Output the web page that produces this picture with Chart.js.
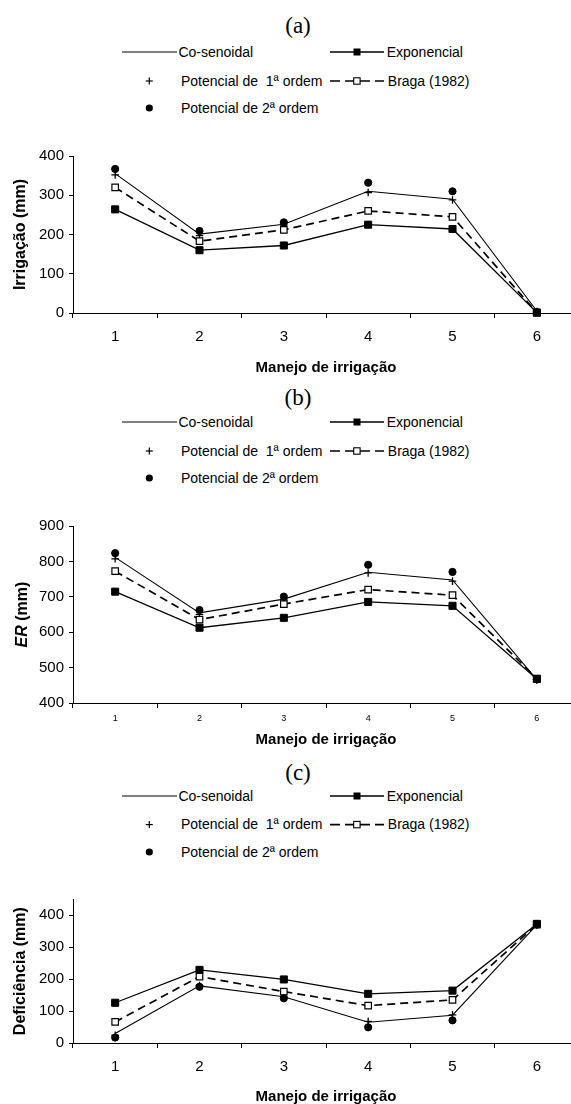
<!DOCTYPE html>
<html><head><meta charset="utf-8">
<script src="https://cdn.jsdelivr.net/npm/chart.js@4/dist/chart.umd.min.js"></script>
<style>
html,body{margin:0;padding:0;background:#fff;overflow:hidden;width:571px;height:1104px;position:relative;}
.ptitle{position:absolute;font-family:"Liberation Serif",serif;font-size:23px;color:#000;transform:translate(-50%,-50%);white-space:nowrap;}
.lt{position:absolute;font-family:"Liberation Sans",Arial,sans-serif;font-size:14px;color:#000;white-space:pre;line-height:16px;transform:translateY(-50%);}
canvas{position:absolute;left:0;}
svg{position:absolute;left:0;}
</style></head><body>
<script>
const categories = ['1','2','3','4','5','6'];
const seriesNames = ['Co-senoidal','Exponencial','Potencial de  1ª ordem','Braga (1982)','Potencial de 2ª ordem'];
const xTitle = 'Manejo de irrigação';

// (a) Irrigação (mm)
const irrCosenoidal = [355, 201, 226, 310, 290, 5];
const irrExponencial = [264, 160, 172, 225, 214, 1];
const irrPotencial1 = [352, 197, 224, 307, 288, 4];
const irrBraga = [320, 183, 212, 260, 245, 1];
const irrPotencial2 = [367, 209, 231, 332, 310, 2];
const irrTicks = [0, 100, 200, 300, 400];

// (b) ER (mm)
const erCosenoidal = [812, 655, 694, 770, 748, 466];
const erExponencial = [715, 613, 641, 686, 675, 468];
const erPotencial1 = [808, 651, 692, 768, 745, 465];
const erBraga = [773, 636, 680, 721, 705, 469];
const erPotencial2 = [824, 663, 701, 791, 771, 467];
const erTicks = [400, 500, 600, 700, 800, 900];

// (c) Deficiência (mm)
const defCosenoidal = [30, 179, 145, 65, 87, 370];
const defExponencial = [126, 229, 199, 154, 164, 373];
const defPotencial1 = [24, 180, 144, 68, 88, 369];
const defBraga = [66, 208, 161, 117, 135, 371];
const defPotencial2 = [17, 176, 140, 49, 71, 372];
const defTicks = [0, 100, 200, 300, 400];

const FONT = '"Liberation Sans", Arial, sans-serif';
const NS = 'http://www.w3.org/2000/svg';

function el(tag, attrs, parent) {
  const e = document.createElementNS(NS, tag);
  for (const k in attrs) e.setAttribute(k, attrs[k]);
  parent.appendChild(e);
  return e;
}
function textDiv(txt, left, y) {
  const d = document.createElement('div');
  d.className = 'lt';
  d.textContent = txt;
  d.style.left = left + 'px';
  d.style.top = y + 'px';
  document.body.appendChild(d);
}
function legend(label, titleY, r1, r2, r3) {
  const t = document.createElement('div');
  t.className = 'ptitle';
  t.textContent = label;
  t.style.left = '298px';
  t.style.top = titleY + 'px';
  document.body.appendChild(t);
  const off = r1 - 10;
  const svg = document.createElementNS(NS, 'svg');
  svg.setAttribute('width', 571);
  svg.setAttribute('height', r3 - r1 + 20);
  svg.style.top = off + 'px';
  document.body.appendChild(svg);
  const y1 = r1 - off, y2 = r2 - off, y3 = r3 - off;
  el('line', {x1:122, y1:y1, x2:177, y2:y1, stroke:'#000', 'stroke-width':1.2}, svg);
  el('line', {x1:330, y1:y1, x2:384, y2:y1, stroke:'#000', 'stroke-width':1.3}, svg);
  el('rect', {x:353.5, y:y1-3.5, width:7, height:7, fill:'#000'}, svg);
  el('line', {x1:145.8, y1:y2, x2:152.8, y2:y2, stroke:'#000', 'stroke-width':1.2}, svg);
  el('line', {x1:149.3, y1:y2-3.5, x2:149.3, y2:y2+3.5, stroke:'#000', 'stroke-width':1.2}, svg);
  el('line', {x1:330, y1:y2, x2:384, y2:y2, stroke:'#000', 'stroke-width':1.6, 'stroke-dasharray':'10,5'}, svg);
  el('rect', {x:353.7, y:y2-3.2, width:6.4, height:6.4, fill:'#fff', stroke:'#000', 'stroke-width':1.1}, svg);
  el('circle', {cx:149.3, cy:y3, r:3.6, fill:'#000'}, svg);
  textDiv(seriesNames[0], 178.4, r1);
  textDiv(seriesNames[1], 386.7, r1);
  textDiv(seriesNames[2], 181, r2);
  textDiv(seriesNames[3], 387.8, r2);
  textDiv(seriesNames[4], 181, r3);
}

function datasets(cos, exp, p1, braga, p2) {
  return [
    {label: seriesNames[0], data: cos, borderColor:'#000', borderWidth:1.1, pointRadius:0, tension:0, fill:false, order:4, clip:false},
    {label: seriesNames[1], data: exp, borderColor:'#000', borderWidth:1.3, pointStyle:'rect', pointRadius:5, pointBackgroundColor:'#000', pointBorderColor:'#000', pointBorderWidth:1, order:3, clip:false},
    {label: seriesNames[2], data: p1, showLine:false, pointStyle:'cross', pointRadius:3.8, borderColor:'#000', pointBorderColor:'#000', pointBorderWidth:1.3, order:2, clip:false},
    {label: seriesNames[3], data: braga, borderColor:'#000', borderWidth:1.7, borderDash:[8,5], pointStyle:'rect', pointRadius:4.6, pointBackgroundColor:'#fff', pointBorderColor:'#000', pointBorderWidth:1.2, order:1, clip:false},
    {label: seriesNames[4], data: p2, showLine:false, pointStyle:'circle', pointRadius:3.6, pointBackgroundColor:'#000', pointBorderColor:'#000', pointBorderWidth:1, order:0, clip:false}
  ];
}

const erTitlePlugin = {
  id: 'erTitle',
  afterDraw(chart) {
    const {ctx, chartArea} = chart;
    const cy = (chartArea.top + chartArea.bottom) / 2;
    ctx.save();
    ctx.translate(26.5, cy);
    ctx.rotate(-Math.PI / 2);
    ctx.fillStyle = '#000';
    ctx.textBaseline = 'alphabetic';
    ctx.textAlign = 'left';
    const f1 = 'italic bold 16px ' + FONT;
    const f2 = 'bold 16px ' + FONT;
    ctx.font = f1; const w1 = ctx.measureText('ER').width;
    ctx.font = f2; const w2 = ctx.measureText(' (mm)').width;
    const x0 = -(w1 + w2) / 2;
    ctx.font = f1; ctx.fillText('ER', x0, 0);
    ctx.font = f2; ctx.fillText(' (mm)', x0 + w1, 0);
    ctx.restore();
  }
};

function makeChart(p) {
  const c = document.createElement('canvas');
  c.width = 600; c.height = p.height;
  c.style.top = p.top + 'px';
  c.style.width = '600px'; c.style.height = p.height + 'px';
  document.body.appendChild(c);
  new Chart(c, {
    type: 'line',
    data: { labels: categories, datasets: p.datasets },
    plugins: p.plugins || [],
    options: {
      responsive: false,
      animation: false,
      devicePixelRatio: 1,
      layout: { padding: { top: p.padTop, right: 21, left: 0, bottom: 0 } },
      plugins: { legend: { display: false }, tooltip: { enabled: false } },
      scales: {
        x: {
          type: 'category', offset: true,
          grid: { offset: true, drawOnChartArea: false, drawTicks: true, tickLength: 5, color: '#000', lineWidth: 1 },
          border: { display: true, color: '#000', width: 1 },
          ticks: { color: '#000', font: { family: FONT, size: p.xFont }, padding: p.xPad, maxRotation: 0, autoSkip: false },
          title: { display: true, text: xTitle, color: '#000', font: { family: FONT, size: 15, weight: 'bold' }, padding: { top: 0, bottom: p.xTitlePad } },
          afterFit: s => { s.height = p.xHeight; }
        },
        y: {
          type: 'linear', min: p.min, max: p.max,
          afterBuildTicks: s => { s.ticks = p.ticks.map(v => ({ value: v })); },
          grid: { drawOnChartArea: false, drawTicks: true, tickLength: 4, color: '#000', lineWidth: 1 },
          border: { display: true, color: '#000', width: 1 },
          ticks: { color: '#000', font: { family: FONT, size: 15 }, padding: 5, includeBounds: false },
          title: { display: !!p.yTitle, text: p.yTitle || '', color: '#000', font: { family: FONT, size: 16, weight: 'bold' }, padding: { top: 11, bottom: 0 } },
          afterFit: s => { s.width = 73; }
        }
      }
    }
  });
}

legend('(a)', 26, 52, 81, 108);
makeChart({ top: 140, height: 242, padTop: 16, xHeight: 69, xFont: 15, xPad: 10, xTitlePad: 5,
  min: 0, max: 400, ticks: irrTicks, yTitle: 'Irrigação (mm)',
  datasets: datasets(irrCosenoidal, irrExponencial, irrPotencial1, irrBraga, irrPotencial2) });

legend('(b)', 398, 422, 451, 478);
makeChart({ top: 510, height: 244, padTop: 16.3, xHeight: 51, xFont: 9, xPad: 5, xTitlePad: 5,
  min: 400, max: 900, ticks: erTicks, yTitle: null, plugins: [erTitlePlugin],
  datasets: datasets(erCosenoidal, erExponencial, erPotencial1, erBraga, erPotencial2) });

legend('(c)', 772.7, 795.7, 824.3, 851.7);
makeChart({ top: 885, height: 226, padTop: 14.3, xHeight: 68, xFont: 15, xPad: 9.7, xTitlePad: 5.2,
  min: 0, max: 450, ticks: defTicks, yTitle: 'Deficiência (mm)',
  datasets: datasets(defCosenoidal, defExponencial, defPotencial1, defBraga, defPotencial2) });
</script>
</body></html>
